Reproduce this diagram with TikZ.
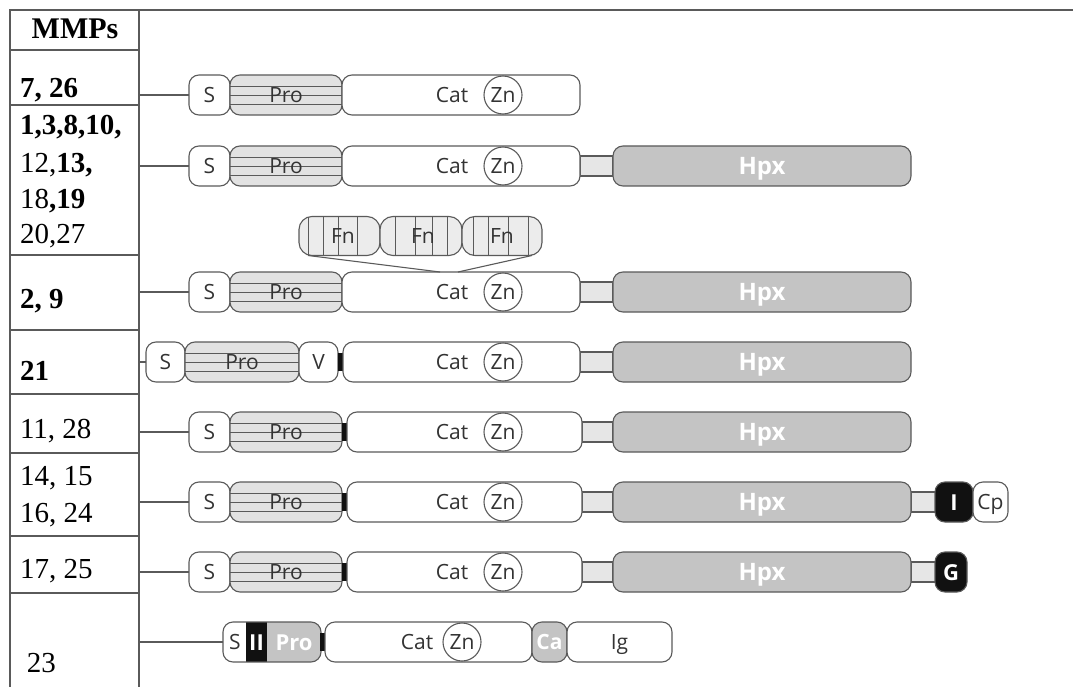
\documentclass[tikz,border=0pt]{standalone}
\usepackage{fontspec}
\setmainfont{Open Sans}
\newfontfamily\tabfont{Liberation Serif}
\definecolor{lgray}{HTML}{5A5A5A}
\definecolor{tgray}{HTML}{333333}
\definecolor{profill}{HTML}{E2E2E2}
\definecolor{hpxfill}{HTML}{C4C4C4}
\definecolor{linkfill}{HTML}{E6E6E6}
\definecolor{fnfill}{HTML}{ECECEC}
\definecolor{darkfill}{HTML}{111111}
\newcommand\prolines[1]{%
  \draw[lgray, line width=0.9pt] ([yshift=9pt]#1.west) -- ([yshift=9pt]#1.east);
  \draw[lgray, line width=0.9pt] (#1.west) -- (#1.east);
  \draw[lgray, line width=0.9pt] ([yshift=-9pt]#1.west) -- ([yshift=-9pt]#1.east);}
\newcommand\front[2]{% id, y
  \node[mbox, minimum width=41pt] (s#1) at (189,#2) {S};
  \node[probox, minimum width=112pt] (p#1) at (230,#2) {};
  \prolines{p#1}
  \node[lbl] (pt#1) at (286,#2) {Pro};}
\newcommand\catpart[4]{% id, y, x start, width
  \node[mbox, minimum width=#4pt] (c#1) at (#3,#2) {};
  \node[lbl] (ct#1) at (452,#2) {Cat};
  \node[zn] (zn#1) at (503,#2) {Zn};}
\newcommand\hpxpart[3]{% id, y, link start
  \node[linkbox, minimum width=\the\numexpr613-#3\relax pt] (l#1) at (#3,#2) {};
  \node[hpxbox, minimum width=298pt] (h#1) at (613,#2) {Hpx};}
\begin{document}
\begin{tikzpicture}[x=1pt,y=-1pt,
  every node/.style={inner sep=0pt, outer sep=0pt},
  capc/.style={text height=15pt, text depth=0pt},
  mbox/.style={draw=lgray, line width=1.1pt, rounded corners=10pt, minimum height=40pt,
    anchor=west, fill=white, text=tgray, font=\fontsize{21}{21}\selectfont, capc},
  probox/.style={mbox, fill=profill},
  hpxbox/.style={mbox, fill=hpxfill, text=white, font=\fontsize{24}{24}\selectfont\bfseries,
    text height=17pt},
  blackbox/.style={mbox, fill=darkfill, text=white, font=\fontsize{22}{22}\selectfont\bfseries,
    text height=16pt},
  linkbox/.style={draw=lgray, line width=1.1pt, fill=linkfill, minimum height=20pt, anchor=west},
  mbar/.style={fill=darkfill, minimum height=18pt, minimum width=5pt, anchor=west},
  zn/.style={circle, draw=lgray, line width=1.1pt, minimum size=38pt, text=tgray,
    font=\fontsize{21}{21}\selectfont, capc},
  lbl/.style={text=tgray, font=\fontsize{21}{21}\selectfont, capc},
  wlbl/.style={text=white, font=\fontsize{22}{22}\selectfont\bfseries, text height=16pt, text depth=0pt},
  tline/.style={draw=lgray, line width=1.2pt},
  conn/.style={draw=lgray, line width=1.1pt},
  num/.style={anchor=base west, text=black, font=\tabfont\fontsize{29}{29}\selectfont},
]
\fill[white] (0,0) rectangle (1073,687);
\useasboundingbox (0,0) rectangle (1073,687);

% ---------- table ----------
\draw[tline] (1073,10) -- (10,10) -- (10,687);
\draw[tline] (139,10) -- (139,687);
\foreach \yy in {50,105,255,330,394,453,536,593}
  \draw[tline] (10,\yy) -- (139,\yy);
\node[font=\tabfont\fontsize{30}{30}\selectfont\bfseries] (hdr) at (75,29) {MMPs};
\node[num] (n1) at (20,98) {\textbf{7, 26}};
\node[num] (n2a) at (20,135) {\textbf{1,3,8,10,}};
\node[num] (n2b) at (20,173) {12,\textbf{13,}};
\node[num] (n2c) at (20,208) {18\textbf{,19}};
\node[num] (n2d) at (20,243) {20,27};
\node[num] (n3) at (20,308) {\textbf{2, 9}};
\node[num] (n4) at (20,380) {\textbf{21}};
\node[num] (n5) at (20,438) {11, 28};
\node[num] (n6a) at (20,485) {14, 15};
\node[num] (n6b) at (20,522) {16, 24};
\node[num] (n7) at (20,578) {17, 25};
\node[num] (n8) at (27,672) {23};

% ---------- row 1 ----------
\coordinate (t1) at (139,95);
\front{1}{95}
\catpart{1}{95}{342}{238}
\draw[conn] (t1) -- (s1);

% ---------- row 2 ----------
\coordinate (t2) at (139,166);
\hpxpart{2}{166}{580}
\front{2}{166}
\catpart{2}{166}{342}{238}
\draw[conn] (t2) -- (s2);

% ---------- Fn modules ----------
\node[mbox, fill=fnfill, rounded corners=13pt, minimum width=81pt, minimum height=39pt] (fn1) at (299,236) {};
\node[mbox, fill=fnfill, rounded corners=13pt, minimum width=82pt, minimum height=39pt] (fn2) at (380,236) {};
\node[mbox, fill=fnfill, rounded corners=13pt, minimum width=80pt, minimum height=39pt] (fn3) at (462,236) {};
\foreach \o in {9,24,39,58}
  \draw[lgray, line width=0.9pt] ([xshift=\o pt]fn1.north west) -- ([xshift=\o pt]fn1.south west);
\foreach \o in {15,35,52,67}
  \draw[lgray, line width=0.9pt] ([xshift=\o pt]fn2.north west) -- ([xshift=\o pt]fn2.south west);
\foreach \o in {11,26,46,66}
  \draw[lgray, line width=0.9pt] ([xshift=\o pt]fn3.north west) -- ([xshift=\o pt]fn3.south west);
\node[lbl] (fnt1) at (343,236) {Fn};
\node[lbl] (fnt2) at (423,236) {Fn};
\node[lbl] (fnt3) at (502,236) {Fn};

% ---------- row 3 ----------
\coordinate (t3) at (139,292);
\hpxpart{3}{292}{580}
\front{3}{292}
\catpart{3}{292}{342}{238}
\draw[conn] (t3) -- (s3);
\draw[conn] ([xshift=9pt]fn1.south west) -- ([xshift=-21pt]c3.north);
\draw[conn] ([xshift=-10pt]fn3.south east) -- ([xshift=-3pt]c3.north);

% ---------- row 4 ----------
\coordinate (t4) at (139,362);
\hpxpart{4}{362}{580}
\node[mbox, minimum width=39pt] (s4) at (146,362) {S};
\node[probox, minimum width=114pt] (p4) at (185,362) {};
\prolines{p4}
\node[lbl] (pt4) at (242,362) {Pro};
\node[mbox, minimum width=39pt] (v4) at (299,362) {V};
\node[mbar] (b4) at (338,362) {};
\catpart{4}{362}{343}{237}
\draw[conn] (t4) -- (s4);

% ---------- row 5 ----------
\coordinate (t5) at (139,432);
\hpxpart{5}{432}{582}
\front{5}{432}
\node[mbar] (b5) at (342,432) {};
\catpart{5}{432}{347}{235}
\draw[conn] (t5) -- (s5);

% ---------- row 6 ----------
\coordinate (t6) at (139,502);
\node[linkbox, minimum width=25pt] (la6) at (911,502) {};
\hpxpart{6}{502}{582}
\front{6}{502}
\node[mbar] (b6) at (342,502) {};
\catpart{6}{502}{347}{235}
\node[blackbox, minimum width=38pt] (i6) at (935,502) {I};
\node[mbox, minimum width=35pt] (cp6) at (973,502) {Cp};
\draw[conn] (t6) -- (s6);

% ---------- row 7 ----------
\coordinate (t7) at (139,572);
\node[linkbox, minimum width=25pt] (la7) at (911,572) {};
\hpxpart{7}{572}{582}
\front{7}{572}
\node[mbar] (b7) at (342,572) {};
\catpart{7}{572}{347}{235}
\node[blackbox, minimum width=32pt] (g7) at (935,572) {G};
\draw[conn] (t7) -- (s7);

% ---------- row 8 ----------
\coordinate (t8) at (139,642);
\begin{scope}
  \clip[rounded corners=10pt] (223,622) rectangle (321,662);
  \fill[white] (223,622) rectangle (246,662);
  \fill[darkfill] (246,622) rectangle (267,662);
  \fill[hpxfill] (267,622) rectangle (321,662);
\end{scope}
\node[mbox, fill=none, minimum width=98pt] (s8) at (223,642) {};
\node[lbl] (st8) at (235,642) {S};
\node[wlbl] (ii8) at (256.5,642) {II};
\node[wlbl] (pt8) at (294,642) {Pro};
\node[mbar] (b8) at (320,642) {};
\node[mbox, minimum width=207pt] (c8) at (325,642) {};
\node[lbl] (ct8) at (417,642) {Cat};
\node[zn] (zn8) at (462,642) {Zn};
\node[mbox, fill=hpxfill, text=white, font=\fontsize{21}{21}\selectfont\bfseries, minimum width=35pt] (ca8) at (532,642) {Ca};
\node[mbox, minimum width=105pt] (ig8) at (567,642) {Ig};
\draw[conn] (t8) -- (s8);
\end{tikzpicture}
\end{document}
